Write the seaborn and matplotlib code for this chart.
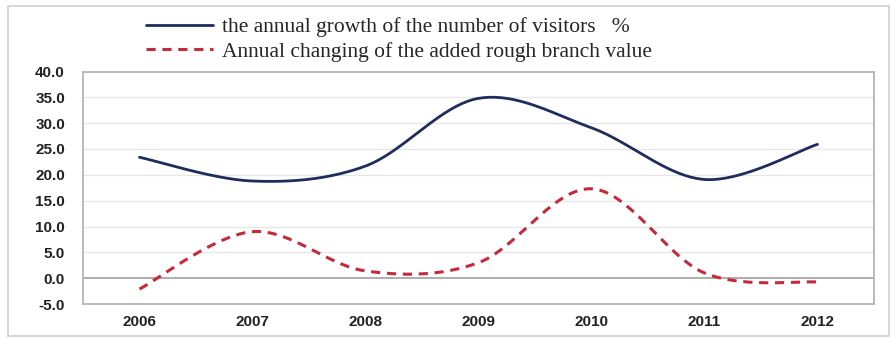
import numpy as np
import pandas as pd
import matplotlib
matplotlib.use("Agg")
import matplotlib.pyplot as plt
import seaborn as sns
from matplotlib.patches import Rectangle

years = ["2006", "2007", "2008", "2009", "2010", "2011", "2012"]
visitors_growth = [23.4, 18.8, 21.7, 34.8, 29.1, 19.1, 25.9]
branch_value_change = [-2.1, 9.0, 1.4, 3.0, 17.3, 1.0, -0.75]
yticks = [-5, 0, 5, 10, 15, 20, 25, 30, 35, 40]
label_visitors = "the annual growth of the number of visitors   %"
label_branch = "Annual changing of the added rough branch value"


def smooth(xs, ys, n=40):
    """Excel-like smoothed line (Catmull-Rom Bezier) through the given points."""
    xs = np.asarray(xs, float)
    ys = np.asarray(ys, float)
    P = np.column_stack([xs, ys])
    Pp = np.vstack([P[0], P, P[-1]])
    out = []
    for i in range(len(P) - 1):
        p0, p1, p2, p3 = Pp[i], Pp[i + 1], Pp[i + 2], Pp[i + 3]
        c1 = p1 + (p2 - p0) / 6.0
        c2 = p2 - (p3 - p1) / 6.0
        t = np.linspace(0, 1, n, endpoint=(i == len(P) - 2))[:, None]
        b = ((1 - t) ** 3) * p1 + 3 * ((1 - t) ** 2) * t * c1 + 3 * (1 - t) * t ** 2 * c2 + t ** 3 * p2
        out.append(b)
    out = np.vstack(out)
    return out[:, 0], out[:, 1]


sns.set_theme(style="white")
plt.rcParams["font.family"] = ["Liberation Sans", "DejaVu Sans"]

fig = plt.figure(figsize=(8.93, 3.38), dpi=100)
ax = fig.add_axes([83 / 893, 1 - 304 / 338, (874 - 83) / 893, (304 - 71.5) / 338])

pos = np.arange(len(years))
sx, sy = smooth(pos, visitors_growth)
df1 = pd.DataFrame({"x": sx, "y": sy})
sns.lineplot(data=df1, x="x", y="y", ax=ax, color="#1f2d5c", linewidth=2.0, sort=False,
             label=label_visitors)
rx, ry = smooth(pos, branch_value_change)
df2 = pd.DataFrame({"x": rx, "y": ry})
sns.lineplot(data=df2, x="x", y="y", ax=ax, color="#c62a3a", linewidth=2.2, sort=False,
             linestyle=(0, (3.0, 2.2)), label=label_branch)

ax.set_xlim(-0.5, len(years) - 0.5)
ax.set_ylim(-5, 40)
ax.set_yticks(yticks)
ax.set_yticklabels([f"{v:.1f}" for v in yticks], fontweight="bold", fontsize=11, color="#222222")
ax.set_xticks(pos)
ax.set_xticklabels(years, fontweight="bold", fontsize=11, color="#222222")
ax.set_xlabel("")
ax.set_ylabel("")
ax.tick_params(axis="y", length=0, pad=13)
ax.tick_params(axis="x", length=0, pad=8)

for v in yticks:
    if v == 0:
        ax.axhline(v, color="#a0a0a0", linewidth=1.2, zorder=0.5)
    else:
        ax.axhline(v, color="#e6e6e6", linewidth=0.9, zorder=0.5)

for s in ax.spines.values():
    s.set_color("#b5b5b5")
    s.set_linewidth(1.3)

ax.get_legend().remove()
handles, labels = ax.get_legend_handles_labels()
fig.legend(handles, labels, loc="upper left", bbox_to_anchor=(146 / 893, 1 - 17 / 338),
           frameon=False, borderpad=0, borderaxespad=0, handlelength=3.1,
           handletextpad=0.45, labelspacing=0.22,
           prop={"family": "Liberation Serif", "size": 15.5})

fig.patches.append(Rectangle((8 / 893, 2 / 338), (889 - 8) / 893, (332 - 2) / 338,
                             transform=fig.transFigure, fill=False,
                             edgecolor="#d0d0d0", linewidth=1.2))

fig.savefig("out.png", dpi=100)
